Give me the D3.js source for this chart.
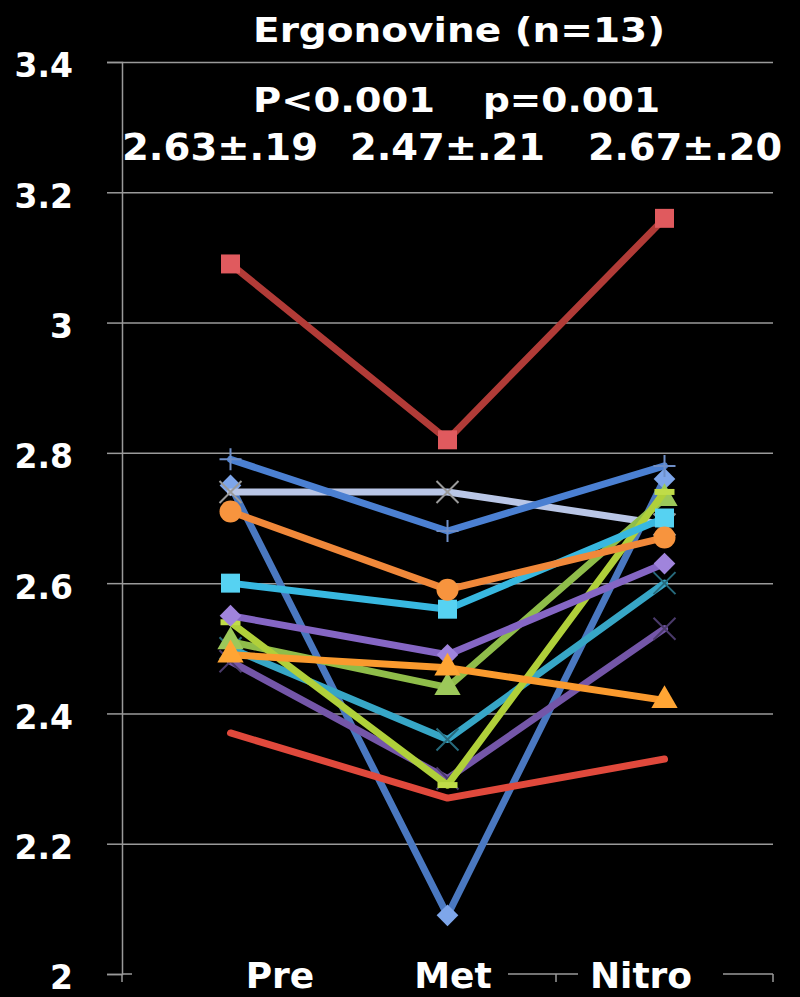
<!DOCTYPE html>
<html>
<head>
<meta charset="utf-8">
<script src="https://cdn.jsdelivr.net/npm/d3@7"></script>
<style>
  html, body { margin: 0; padding: 0; background: #000; }
  svg { display: block; }
  text { font-family: "DejaVu Sans", Verdana, sans-serif; font-weight: bold; fill: #fff; }
</style>
</head>
<body>
<div id="chart"></div>
<script>
(function(){
    "use strict";

    // categories and tick values
    var categories = ["Pre", "Met", "Nitro"];
    var yTicks = [2, 2.2, 2.4, 2.6, 2.8, 3, 3.2, 3.4];

    // one array per patient: [Pre, Met, Nitro]
    var redSquare      = [3.09, 2.82, 3.16];
    var blueDash       = [2.79, 2.68, 2.78];
    var blueDiamond    = [2.75, 2.09, 2.76];
    var lavenderX      = [2.74, 2.74, 2.69];
    var orangeCircle   = [2.71, 2.59, 2.67];
    var cyanSquare     = [2.60, 2.56, 2.70];
    var purpleDiamond  = [2.55, 2.49, 2.63];
    var limeDash       = [2.54, 2.29, 2.74];
    var greenTriangle  = [2.51, 2.44, 2.73];
    var cyanX          = [2.50, 2.36, 2.60];
    var purpleX        = [2.48, 2.30, 2.53];
    var orangeTriangle = [2.49, 2.47, 2.42];
    var redPlain       = [2.37, 2.27, 2.33];

    // header texts
    var title = "Ergonovine (n=13)";
    var pValues = ["P<0.001", "p=0.001"];
    var meanSd = ["2.63\u00b1.19", "2.47\u00b1.21", "2.67\u00b1.20"];

    var series = [
        {values: blueDiamond,    line: "#4a78c0", marker: "diamond",  fill: "#7ea6ea"},
        {values: redPlain,       line: "#e0493c", marker: null,       fill: null},
        {values: lavenderX,      line: "#b9c6e6", marker: "x",        fill: "#9a9a9a"},
        {values: blueDash,       line: "#4b80d2", marker: "plus",     fill: "#6f8fc8"},
        {values: redSquare,      line: "#b13b37", marker: "square",   fill: "#e05a5e"},
        {values: purpleX,        line: "#7456a8", marker: "x",        fill: "#4a3a6a"},
        {values: cyanX,          line: "#37a6c6", marker: "x",        fill: "#276a7c"},
        {values: greenTriangle,  line: "#8fbd4a", marker: "triangle", fill: "#9cc85a"},
        {values: limeDash,       line: "#b0d03a", marker: "dash",     fill: "#c0dc48"},
        {values: purpleDiamond,  line: "#8566c4", marker: "diamond",  fill: "#a084dc"},
        {values: cyanSquare,     line: "#38b8e0", marker: "square",   fill: "#56d2f2"},
        {values: orangeCircle,   line: "#f0883a", marker: "circle",   fill: "#f7943e"},
        {values: orangeTriangle, line: "#fa9a2e", marker: "triangle", fill: "#ffa534"}
    ];

    var width = 800, height = 997;
    var plot = {left: 122, right: 773, top: 62, bottom: 974};

    var svg = d3.select("#chart").append("svg")
        .attr("width", width)
        .attr("height", height)
        .style("background", "#000");

    var x = d3.scaleBand().domain(categories).range([plot.left, plot.right]);
    var y = d3.scaleLinear().domain([2, 3.4]).range([plot.bottom, plot.top]);

    // gridlines + y axis
    var yAxis = d3.axisLeft(y).tickValues(yTicks).tickSize(15).tickFormat(d3.format("~g"));
    var yG = svg.append("g").attr("transform", "translate(" + plot.left + ",0)").call(yAxis);
    yG.select(".domain").attr("stroke", "#9a9a9a").attr("stroke-width", 1.5);
    yG.selectAll(".tick line").attr("stroke", "#9a9a9a").attr("stroke-width", 1.5);
    yG.selectAll(".tick").append("line")
        .attr("x1", 0).attr("x2", plot.right - plot.left)
        .attr("stroke", function(d){ return d === 2 ? "none" : "#9a9a9a"; })
        .attr("stroke-width", 1.5);
    yG.selectAll(".tick text")
        .attr("x", -49)
        .attr("dy", "0.45em")
        .style("font-size", "33px")
        .style("font-family", "'DejaVu Sans', sans-serif")
        .style("font-weight", "bold")
        .attr("fill", "#fff");

    // x axis line with ticks at band edges
    var xG = svg.append("g").attr("transform", "translate(0," + plot.bottom + ")");
    xG.append("line").attr("x1", plot.left).attr("x2", plot.right)
        .attr("stroke", "#9a9a9a").attr("stroke-width", 1.5);
    var edges = categories.map(function(c){ return x(c); }).concat([plot.right]);
    xG.selectAll("line.edge").data(edges).enter().append("line")
        .attr("class", "edge")
        .attr("x1", function(d){ return d; }).attr("x2", function(d){ return d; })
        .attr("y1", 0).attr("y2", 8)
        .attr("stroke", "#9a9a9a").attr("stroke-width", 1.5);

    // lines
    var line = d3.line()
        .x(function(d, i){ return x(categories[i]) + x.bandwidth() / 2; })
        .y(function(d){ return y(d); });

    var gSeries = svg.append("g");
    series.forEach(function(s){
        var g = gSeries.append("g");
        g.append("path")
            .attr("d", line(s.values))
            .attr("fill", "none")
            .attr("stroke", s.line)
            .attr("stroke-width", 7)
            .attr("stroke-linejoin", "round")
            .attr("stroke-linecap", "round");
        if(!s.marker){ return; }
        var pts = s.values.map(function(v, i){
            return [x(categories[i]) + x.bandwidth() / 2, y(v)];
        });
        var sym;
        if(s.marker === "x" || s.marker === "plus" || s.marker === "dash"){
            g.selectAll("path.mk").data(pts).enter().append("path")
                .attr("class", "mk")
                .attr("transform", function(d){ return "translate(" + d[0] + "," + d[1] + ")"; })
                .attr("d", function(){
                    if(s.marker === "x"){ return "M-11,-11L11,11M-11,11L11,-11"; }
                    if(s.marker === "plus"){ return "M-11,0L11,0M0,-11L0,11"; }
                    return "M-10,0L10,0";
                })
                .attr("stroke", s.fill)
                .attr("stroke-width", s.marker === "dash" ? 6 : 2)
                .attr("fill", "none");
            return;
        }
        if(s.marker === "diamond"){ sym = d3.symbol().type(d3.symbolDiamond2).size(300); }
        else if(s.marker === "square"){ sym = d3.symbol().type(d3.symbolSquare).size(360); }
        else if(s.marker === "triangle"){ sym = d3.symbol().type(d3.symbolTriangle).size(300); }
        else { sym = d3.symbol().type(d3.symbolCircle).size(380); }
        g.selectAll("path.mk").data(pts).enter().append("path")
            .attr("class", "mk")
            .attr("transform", function(d){ return "translate(" + d[0] + "," + d[1] + ")"; })
            .attr("d", sym)
            .attr("fill", s.fill);
    });

    // category labels on black boxes (they hide the axis line)
    svg.append("rect").attr("x", 132).attr("y", 955).attr("width", 376).attr("height", 42).attr("fill", "#000");
    svg.append("rect").attr("x", 578).attr("y", 955).attr("width", 145).attr("height", 42).attr("fill", "#000");
    var catLabelX = [280, 453, 641];
    svg.selectAll("text.cat").data(categories).enter().append("text")
        .attr("class", "cat")
        .attr("x", function(d, i){ return catLabelX[i]; })
        .attr("y", 988)
        .attr("text-anchor", "middle")
        .style("font-size", "36px")
        .text(function(d){ return d; });

    // header text
    svg.append("text")
        .attr("x", 253).attr("y", 42)
        .attr("textLength", 412).attr("lengthAdjust", "spacingAndGlyphs")
        .style("font-size", "34px")
        .text(title);

    var pX = [253, 483], pW = [182, 177];
    svg.selectAll("text.pv").data(pValues).enter().append("text")
        .attr("class", "pv")
        .attr("x", function(d, i){ return pX[i]; })
        .attr("y", 112)
        .attr("textLength", function(d, i){ return pW[i]; })
        .attr("lengthAdjust", "spacingAndGlyphs")
        .style("font-size", "34px")
        .text(function(d){ return d; });

    var mX = [122, 350, 588], mW = [196, 195, 194];
    svg.selectAll("text.ms").data(meanSd).enter().append("text")
        .attr("class", "ms")
        .attr("x", function(d, i){ return mX[i]; })
        .attr("y", 160)
        .attr("textLength", function(d, i){ return mW[i]; })
        .attr("lengthAdjust", "spacingAndGlyphs")
        .style("font-size", "38px")
        .text(function(d){ return d; });
})();
</script>
</body>
</html>
